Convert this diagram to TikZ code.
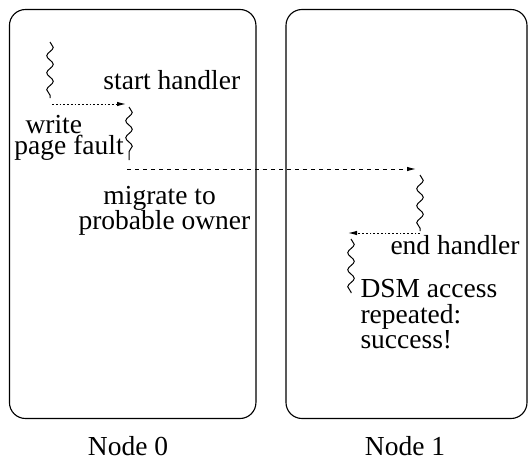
\documentclass[tikz,border=0pt]{standalone}
\usepackage{fontspec}
\setmainfont{Liberation Serif}
\usetikzlibrary{arrows.meta,decorations.pathmorphing}
\tikzset{
  sitebox/.style={draw, rectangle, rounded corners=6.4pt, line width=.45pt, minimum width=98.6pt, minimum height=163.6pt},
  thread/.style={line width=.4pt, decorate, decoration={snake, segment length=6.8pt, amplitude=1.3pt}},
  msgwire/.style={line width=.4pt, -{Latex[length=3.6pt,width=1.8pt]}},
  sitelabel/.style={inner sep=0, anchor=base},
  txt/.style={inner sep=0, anchor=base west}
}

\begin{document}
\begin{tikzpicture}[x=0.4pt,y=-0.4pt,font=\fontsize{11}{10}\selectfont]
    \useasboundingbox (0,0) rectangle (528,460);
    \node[sitebox] (n0) at (132.7,214) {};
    \node[sitebox, minimum width=96.4pt] (n1) at (406.5,214) {};
    \node[sitelabel] (l0) at (128,455) {Node 0};
    \node[sitelabel] (l1) at (405,455) {Node 1};

    % threads
    \coordinate (t1a) at (50,42);   \coordinate (t1b) at (50,98);
    \coordinate (t2a) at (129,107); \coordinate (t2b) at (129,160);
    \coordinate (t3a) at (420,175); \coordinate (t3b) at (420,231);
    \coordinate (t4a) at (351,239); \coordinate (t4b) at (351,293);
    \draw[thread] (t1a) -- (t1b);
    \draw[thread] (t2a) -- (t2b);
    \draw[thread] (t3a) -- (t3b);
    \draw[thread] (t4a) -- (t4b);

    % messages
    \coordinate (m1a) at (52,104);  \coordinate (m1b) at (126,104);
    \coordinate (m2a) at (127,169); \coordinate (m2b) at (416,169);
    \coordinate (m3a) at (420,233); \coordinate (m3b) at (348,233);
    \draw[msgwire, dash pattern=on .7pt off .8pt] (m1a) -- (m1b);
    \draw[msgwire, dash pattern=on 1.6pt off 1.6pt] (m2a) -- (m2b);
    \draw[msgwire, dash pattern=on .7pt off .8pt] (m3a) -- (m3b);

    \node[txt] (start) at (103,90) {start handler};
    \node[txt] (write) at (25,133.5) {write};
    \node[txt] (fault) at (14,154) {page fault};
    \node[txt] (migr) at (103,204) {migrate to};
    \node[txt] (owner) at (78,229) {probable owner};
    \node[txt] (endh) at (390,254) {end handler};
    \node[txt] (dsm) at (360,298) {DSM access};
    \node[txt] (rep) at (360,323) {repeated:};
    \node[txt] (succ) at (360,348) {success!};
\end{tikzpicture}
\end{document}
